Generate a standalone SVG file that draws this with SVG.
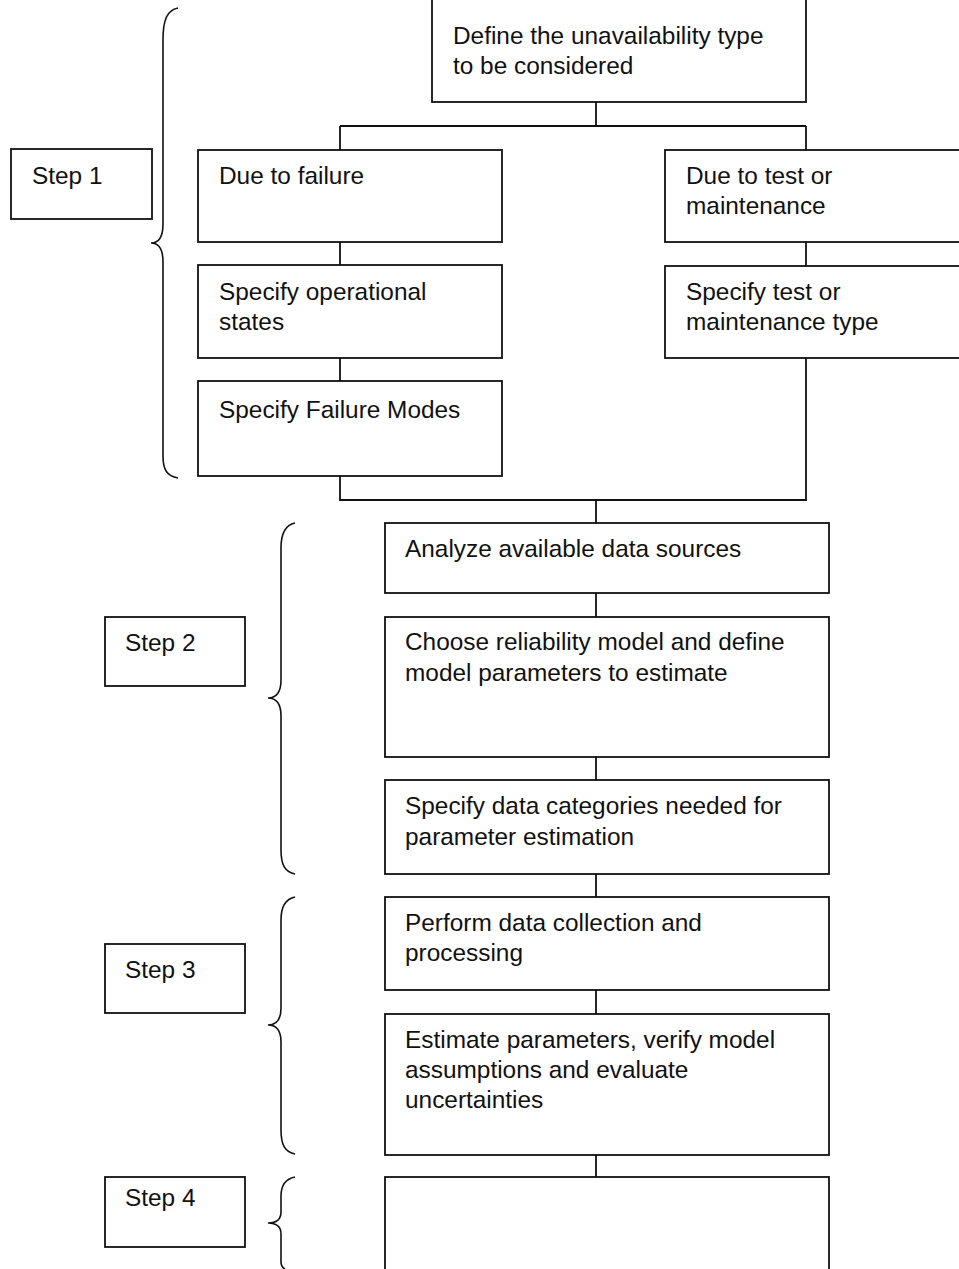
<svg xmlns="http://www.w3.org/2000/svg" width="959" height="1269" viewBox="0 0 959 1269">
  <style>
    .box { fill: #fff; stroke: #111; stroke-width: 1.8; }
    .wire { fill: none; stroke: #111; stroke-width: 1.8; }
    .brace { fill: none; stroke: #111; stroke-width: 1.6; }
    text { font-family: "Liberation Sans", Arial, sans-serif; font-size: 24.4px; fill: #111; }
  </style>
  <rect width="959" height="1269" fill="#fff"/>

  <!-- connectors -->
  <g id="connectors" class="wire">
    <path d="M596,102 V126 M340,126 H806 M340,126 V150 M806,126 V150"/>
    <path d="M340,242 V265 M340,358 V381"/>
    <path d="M806,242 V266"/>
    <path d="M340,476 V500 H806 V358 M596,500 V523"/>
    <path d="M596,593 V617 M596,757 V780 M596,874 V897 M596,990 V1014 M596,1155 V1177"/>
  </g>

  <!-- braces -->
  <g id="braces" class="brace">
    <path d="M178,8 C167,10 163,20 163,40 V224 C163,237 159,243 151,243 C159,243 163,249 163,262 V456 C163,470 167,476 178,478"/>
    <path d="M295,523 C285,525 281,533 281,548 V680 C281,692 277,698 268,698 C277,698 281,704 281,716 V850 C281,865 285,872 295,874"/>
    <path d="M295,897 C285,899 281,907 281,920 V1008 C281,1019 277,1025 268,1025 C277,1025 281,1031 281,1042 V1130 C281,1145 285,1152 295,1154"/>
    <path d="M295,1177 C285,1179 281,1186 281,1196 V1212 C281,1219 277,1223 268,1223 C277,1223 281,1227 281,1234 V1262 C281,1266 283,1268 285,1269"/>
  </g>

  <!-- step labels -->
  <g id="step1"><rect class="box" x="11" y="149" width="141" height="70"/><text x="32" y="184">Step 1</text></g>
  <g id="step2"><rect class="box" x="105" y="617" width="140" height="69"/><text x="125" y="651">Step 2</text></g>
  <g id="step3"><rect class="box" x="105" y="944" width="140" height="69"/><text x="125" y="978">Step 3</text></g>
  <g id="step4"><rect class="box" x="105" y="1177" width="140" height="70"/><text x="125" y="1206">Step 4</text></g>

  <!-- step 1 flow -->
  <g id="define-type"><rect class="box" x="432" y="-2" width="374" height="104"/><text x="453" y="44">Define the unavailability type</text><text x="453" y="74">to be considered</text></g>
  <g id="due-to-failure"><rect class="box" x="198" y="150" width="304" height="92"/><text x="219" y="184">Due to failure</text></g>
  <g id="operational-states"><rect class="box" x="198" y="265" width="304" height="93"/><text x="219" y="300">Specify operational</text><text x="219" y="330">states</text></g>
  <g id="failure-modes"><rect class="box" x="198" y="381" width="304" height="95"/><text x="219" y="418">Specify Failure Modes</text></g>
  <g id="due-to-test"><rect class="box" x="665" y="150" width="310" height="92"/><text x="686" y="184">Due to test or</text><text x="686" y="214">maintenance</text></g>
  <g id="test-type"><rect class="box" x="665" y="266" width="310" height="92"/><text x="686" y="300">Specify test or</text><text x="686" y="330">maintenance type</text></g>

  <!-- step 2 flow -->
  <g id="data-sources"><rect class="box" x="385" y="523" width="444" height="70"/><text x="405" y="557">Analyze available data sources</text></g>
  <g id="reliability-model"><rect class="box" x="385" y="617" width="444" height="140"/><text x="405" y="650">Choose reliability model and define</text><text x="405" y="681">model parameters to estimate</text></g>
  <g id="data-categories"><rect class="box" x="385" y="780" width="444" height="94"/><text x="405" y="814">Specify data categories needed for</text><text x="405" y="845">parameter estimation</text></g>

  <!-- step 3 flow -->
  <g id="data-collection"><rect class="box" x="385" y="897" width="444" height="93"/><text x="405" y="931">Perform data collection and</text><text x="405" y="961">processing</text></g>
  <g id="estimate"><rect class="box" x="385" y="1014" width="444" height="141"/><text x="405" y="1048">Estimate parameters, verify model</text><text x="405" y="1078">assumptions and evaluate</text><text x="405" y="1108">uncertainties</text></g>

  <!-- step 4 -->
  <g id="step4-box"><rect class="box" x="385" y="1177" width="444" height="110"/></g>
</svg>
